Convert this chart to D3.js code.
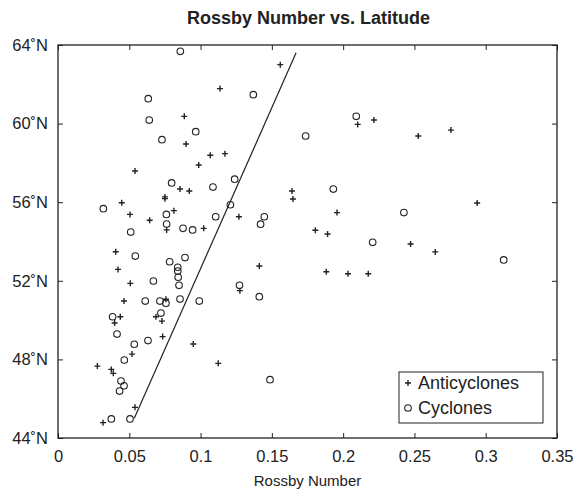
<!DOCTYPE html>
<html>
<head>
<meta charset="utf-8">
<script src="https://cdn.jsdelivr.net/npm/d3@7"></script>
<style>
  html, body { margin: 0; padding: 0; background: #fff; }
  svg { display: block; }
  text { font-family: "Liberation Sans", Arial, Helvetica, sans-serif; fill: #222; }
</style>
</head>
<body>
<svg id="chart" width="582" height="492"></svg>
<script>
// ---- data ----
const anticyclonesX = [0.1136,0.0886,0.0898,0.1068,0.1171,0.0987,0.054,0.0856,0.0921,0.0447,0.075,0.075,0.0505,0.0813,0.0643,0.0762,0.1022,0.1269,0.0405,0.0421,0.0507,0.1276,0.0463,0.0757,0.0437,0.0397,0.0687,0.0729,0.0734,0.0519,0.0949,0.0276,0.0374,0.0388,0.1124,0.054,0.0316,0.1559,0.2102,0.2216,0.2527,0.2756,0.1641,0.1648,0.1957,0.1805,0.1891,0.2473,0.1412,0.1882,0.2034,0.2176,0.294,0.2646];
const anticyclonesY = [61.78,60.37,58.96,58.39,58.47,57.89,57.59,56.67,56.57,55.97,56.27,56.18,55.38,55.57,55.08,54.59,54.67,55.26,53.48,52.58,51.87,51.50,50.97,51.06,50.17,49.85,50.17,49.95,49.16,48.27,48.78,47.66,47.49,47.29,47.80,45.56,44.78,63.0,59.96,60.18,59.37,59.67,56.57,56.16,55.47,54.57,54.38,53.87,52.75,52.46,52.36,52.36,55.96,53.47];
const cyclonesX = [0.0797,0.1087,0.1239,0.0318,0.076,0.0762,0.0877,0.0944,0.1106,0.1209,0.051,0.0542,0.0783,0.0891,0.084,0.084,0.0843,0.0849,0.0669,0.1273,0.0612,0.0715,0.0757,0.0856,0.0991,0.0383,0.0722,0.0414,0.0631,0.0535,0.0465,0.0442,0.0463,0.0432,0.0374,0.0505,0.0858,0.0633,0.064,0.0966,0.0729,0.137,0.1737,0.2092,0.1931,0.1447,0.1421,0.2426,0.2207,0.1412,0.3126,0.1487];
const cyclonesY = [56.98,56.77,57.17,55.67,55.38,54.89,54.67,54.59,55.26,55.87,54.48,53.26,52.97,53.18,52.69,52.50,52.18,51.77,51.99,51.77,50.97,50.97,50.86,51.07,50.97,50.17,50.36,49.29,48.96,48.77,47.97,46.90,46.66,46.39,44.97,44.97,63.68,61.27,60.18,59.59,59.18,61.47,59.37,60.37,56.67,55.26,54.88,55.47,53.96,51.19,53.06,46.97];
const fitLineX = [0.0535, 0.167];
const fitLineY = [45.0, 63.6];
const xTicks = [0, 0.05, 0.1, 0.15, 0.2, 0.25, 0.3, 0.35];
const xTickLabels = ["0", "0.05", "0.1", "0.15", "0.2", "0.25", "0.3", "0.35"];
const yTicks = [44, 48, 52, 56, 60, 64];
const yTickLabels = ["44˚N", "48˚N", "52˚N", "56˚N", "60˚N", "64˚N"];
const seriesNames = ["Anticyclones", "Cyclones"];
const titleText = "Rossby Number vs. Latitude";
const xLabelText = "Rossby Number";

// ---- layout ----
const svg = d3.select("#chart");
const L = 58, R = 557, T = 45, B = 438;
const x = d3.scaleLinear().domain([0, 0.35]).range([L, R]);
const y = d3.scaleLinear().domain([44, 64]).range([B, T]);
const ink = "#222";

// frame
svg.append("rect").attr("x", L).attr("y", T).attr("width", R - L).attr("height", B - T)
  .attr("fill", "none").attr("stroke", ink).attr("stroke-width", 1.3);

// axes
const xAxisB = d3.axisBottom(x).tickValues(xTicks).tickFormat((d, i) => xTickLabels[i]).tickSizeInner(-5).tickSizeOuter(0).tickPadding(12);
const xAxisT = d3.axisTop(x).tickValues(xTicks).tickFormat("").tickSizeInner(-5).tickSizeOuter(0);
const yAxisL = d3.axisLeft(y).tickValues(yTicks).tickFormat((d, i) => yTickLabels[i]).tickSizeInner(-5).tickSizeOuter(0).tickPadding(10);
const yAxisR = d3.axisRight(y).tickValues(yTicks).tickFormat("").tickSizeInner(-5).tickSizeOuter(0);

function style(g) {
  g.select(".domain").remove();
  g.selectAll(".tick line").attr("stroke", ink).attr("stroke-width", 1);
  g.selectAll(".tick text").attr("fill", ink).style("font-size", "16.5px")
    .style("font-family", '"Liberation Sans", Arial, sans-serif');
}
svg.append("g").attr("transform", `translate(0,${B})`).call(xAxisB).call(style);
svg.append("g").attr("transform", `translate(0,${T})`).call(xAxisT).call(style);
svg.append("g").attr("transform", `translate(${L},0)`).call(yAxisL).call(style);
svg.append("g").attr("transform", `translate(${R},0)`).call(yAxisR).call(style);

// fit line
svg.append("line")
  .attr("x1", x(fitLineX[0])).attr("y1", y(fitLineY[0]))
  .attr("x2", x(fitLineX[1])).attr("y2", y(fitLineY[1]))
  .attr("stroke", ink).attr("stroke-width", 1.2);

// markers
const plusPath = (cx, cy, s) => `M${cx - s},${cy}H${cx + s}M${cx},${cy - s}V${cy + s}`;
const anti = anticyclonesX.map((v, i) => ({ x: v, y: anticyclonesY[i] }));
const cyc = cyclonesX.map((v, i) => ({ x: v, y: cyclonesY[i] }));

svg.append("g").selectAll("path").data(anti).join("path")
  .attr("d", d => plusPath(x(d.x), y(d.y), 3))
  .attr("stroke", ink).attr("stroke-width", 1.4).attr("fill", "none");

svg.append("g").selectAll("circle").data(cyc).join("circle")
  .attr("cx", d => x(d.x)).attr("cy", d => y(d.y)).attr("r", 3.3)
  .attr("stroke", ink).attr("stroke-width", 1.1).attr("fill", "none");

// title & labels
svg.append("text").attr("x", (L + R) / 2 + 1).attr("y", 24).attr("text-anchor", "middle")
  .style("font-size", "18px").style("font-weight", "bold").text(titleText);
svg.append("text").attr("x", (L + R) / 2).attr("y", 486).attr("text-anchor", "middle")
  .style("font-size", "15px").text(xLabelText);

// legend
const lg = svg.append("g");
lg.append("rect").attr("x", 399).attr("y", 372).attr("width", 144).attr("height", 51)
  .attr("fill", "#fff").attr("stroke", ink).attr("stroke-width", 1);
lg.append("path").attr("d", plusPath(408, 383, 3)).attr("stroke", ink).attr("stroke-width", 1.4);
lg.append("circle").attr("cx", 408).attr("cy", 408).attr("r", 3.3).attr("fill", "none").attr("stroke", ink).attr("stroke-width", 1.1);
lg.append("text").attr("x", 418).attr("y", 389).style("font-size", "18px").text(seriesNames[0]);
lg.append("text").attr("x", 418).attr("y", 414).style("font-size", "18px").text(seriesNames[1]);
</script>
</body>
</html>
